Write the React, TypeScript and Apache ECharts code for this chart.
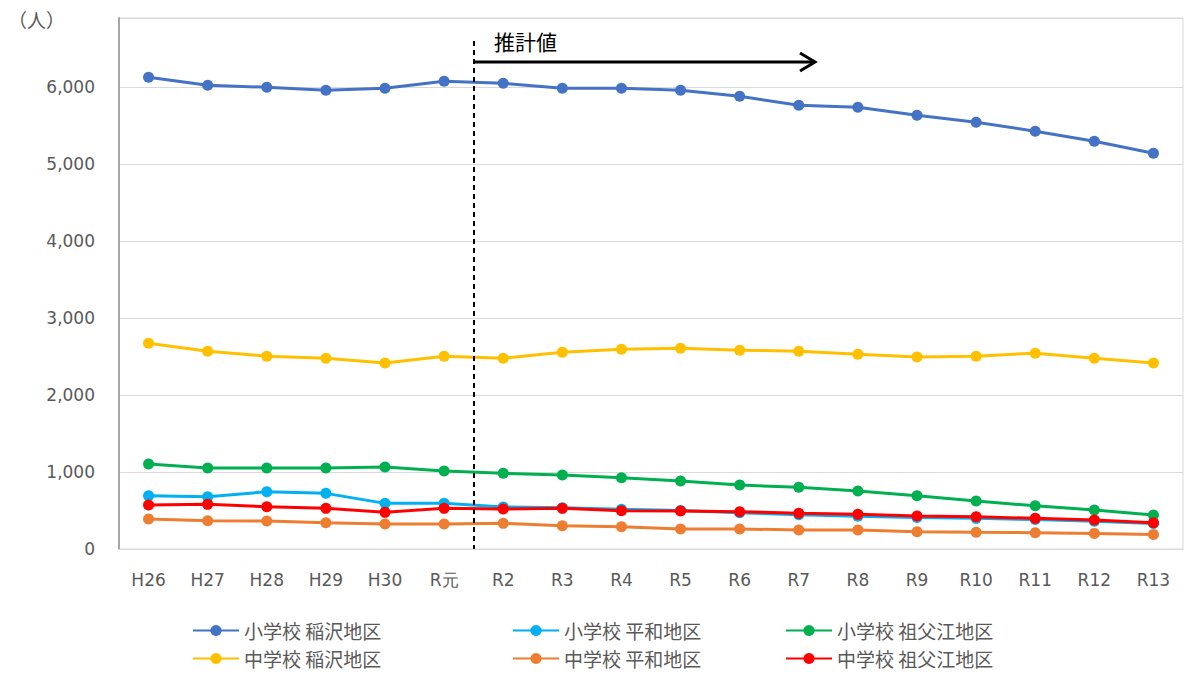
import React, { useEffect, useRef } from "react";
import * as echarts from "echarts";

const categories = ["H26", "H27", "H28", "H29", "H30", "R元", "R2", "R3", "R4", "R5", "R6", "R7", "R8", "R9", "R10", "R11", "R12", "R13"];

const elemInazawa = [6130, 6026, 6000, 5961, 5987, 6078, 6052, 5987, 5987, 5961, 5883, 5766, 5740, 5636, 5545, 5429, 5299, 5143];
const elemHeiwa = [692, 679, 744, 723, 593, 593, 545, 535, 515, 500, 470, 445, 425, 408, 398, 382, 362, 330];
const elemSobue = [1104, 1052, 1052, 1052, 1065, 1013, 983, 961, 926, 883, 831, 801, 753, 692, 623, 562, 506, 442];
const juniorInazawa = [2675, 2571, 2506, 2480, 2416, 2506, 2480, 2558, 2597, 2610, 2584, 2571, 2532, 2494, 2506, 2545, 2480, 2416];
const juniorHeiwa = [390, 368, 364, 342, 325, 325, 333, 303, 290, 260, 260, 247, 247, 225, 217, 212, 203, 190];
const juniorSobue = [571, 580, 549, 528, 476, 528, 519, 528, 497, 493, 485, 463, 450, 429, 420, 398, 377, 342];

const seriesNames = ["小学校 稲沢地区", "小学校 平和地区", "小学校 祖父江地区", "中学校 稲沢地区", "中学校 平和地区", "中学校 祖父江地区"];
const seriesData = [elemInazawa, elemHeiwa, elemSobue, juniorInazawa, juniorHeiwa, juniorSobue];
const seriesColors = ["#4472C4", "#00B0F0", "#00B050", "#FFC000", "#ED7D31", "#FF0000"];

const yTicks = [0, 1000, 2000, 3000, 4000, 5000, 6000];
const forecastLabel = "推計値";
const unitLabel = "（人）";

const CJK = '"Noto Sans CJK JP", "Noto Sans", sans-serif';
const LATIN = '"DejaVu Sans", Verdana, sans-serif';

export default function App() {
  const ref = useRef<HTMLDivElement>(null);
  useEffect(() => {
    if (!ref.current) return;
    const chart = echarts.init(ref.current, null, { renderer: "svg" });
    const legendText = { color: "#595959", fontSize: 19, fontFamily: CJK };
    const mkLegend = (left: number, names: string[]) => ({
      left,
      top: 621,
      orient: "vertical",
      padding: 0,
      itemWidth: 46,
      itemHeight: 14,
      itemGap: 9,
      textStyle: legendText,
      data: names,
    });
    chart.setOption({
      animation: false,
      backgroundColor: "#ffffff",
      grid: {
        left: 119,
        right: 2,
        top: 18,
        bottom: 128,
        show: true,
        borderColor: "#d9d9d9",
        borderWidth: 1,
        containLabel: false,
      },
      legend: [
        mkLegend(192, [seriesNames[0], seriesNames[3]]),
        mkLegend(512, [seriesNames[1], seriesNames[4]]),
        mkLegend(785, [seriesNames[2], seriesNames[5]]),
      ],
      xAxis: {
        type: "category",
        data: categories,
        boundaryGap: true,
        axisLine: { show: true, lineStyle: { color: "#d9d9d9", width: 1 } },
        axisTick: { show: false },
        axisLabel: { color: "#595959", fontSize: 17, fontFamily: LATIN, margin: 22, interval: 0 },
      },
      yAxis: {
        type: "value",
        min: 0,
        max: 6900,
        interval: 1000,
        axisLine: { show: true, lineStyle: { color: "#a6a6a6", width: 2 } },
        axisTick: { show: false },
        splitLine: { show: true, lineStyle: { color: "#d9d9d9", width: 1 } },
        axisLabel: {
          color: "#595959",
          fontSize: 17,
          fontFamily: LATIN,
          margin: 24,
          showMaxLabel: false,
          formatter: (v: number) => (yTicks.includes(v) ? v.toLocaleString("en-US") : ""),
        },
      },
      series: seriesNames.map((name, i) => ({
        name,
        type: "line",
        data: seriesData[i],
        color: seriesColors[i],
        symbol: "circle",
        symbolSize: 11,
        lineStyle: { width: 3, color: seriesColors[i] },
        itemStyle: { color: seriesColors[i] },
        z: 2 + i,
      })),
      graphic: [
        {
          type: "text",
          left: 8,
          top: 10,
          style: { text: unitLabel, fill: "#595959", fontSize: 19, fontFamily: CJK },
        },
        {
          type: "line",
          shape: { x1: 474, y1: 41, x2: 474, y2: 549 },
          style: { stroke: "#000000", lineWidth: 2, lineDash: [5, 4] },
          z: 100,
        },
        {
          type: "text",
          left: 494,
          top: 30,
          style: { text: forecastLabel, fill: "#000000", fontSize: 21, fontFamily: CJK },
        },
        {
          type: "line",
          shape: { x1: 474, y1: 62, x2: 814, y2: 62 },
          style: { stroke: "#000000", lineWidth: 3 },
        },
        {
          type: "polyline",
          shape: { points: [[800, 53], [815, 62], [800, 71]] },
          style: { stroke: "#000000", lineWidth: 3, fill: null },
        },
      ],
    });
    return () => chart.dispose();
  }, []);
  return (
    <div
      ref={ref}
      style={{ position: "fixed", left: 0, top: 0, width: 1185, height: 677, background: "#fff" }}
    />
  );
}
